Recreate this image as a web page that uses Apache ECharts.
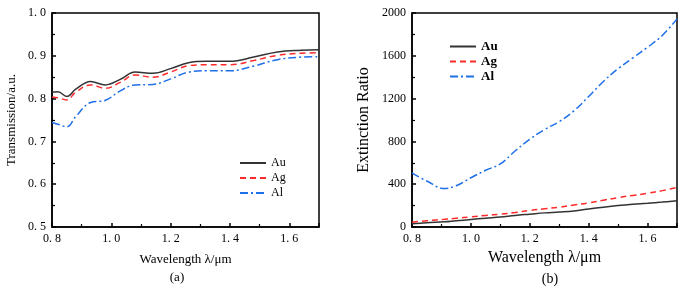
<!DOCTYPE html>
<html>
<head>
<meta charset="utf-8">
<script src="https://cdn.jsdelivr.net/npm/echarts@6/dist/echarts.min.js"></script>
<style>
  html, body { margin: 0; padding: 0; background: #fff; }
  #chart { width: 685px; height: 288px; }
</style>
</head>
<body>
<div id="chart"></div>
<script>
// (a) transmission
const waveA = [0.80, 0.82, 0.85, 0.88, 0.93, 0.98, 1.03, 1.08, 1.14, 1.20, 1.26, 1.32, 1.40, 1.48, 1.56, 1.64, 1.70];
const transAu = [0.815, 0.816, 0.805, 0.822, 0.840, 0.832, 0.845, 0.862, 0.859, 0.870, 0.884, 0.887, 0.887, 0.897, 0.909, 0.913, 0.914];
const transAg = [0.804, 0.802, 0.797, 0.815, 0.832, 0.824, 0.838, 0.855, 0.850, 0.862, 0.877, 0.879, 0.879, 0.889, 0.901, 0.906, 0.907];
const transAl = [0.744, 0.740, 0.734, 0.758, 0.791, 0.796, 0.818, 0.832, 0.833, 0.846, 0.862, 0.865, 0.865, 0.876, 0.891, 0.897, 0.898];

// (b) extinction ratio
const waveB = [0.80, 0.85, 0.91, 0.95, 1.00, 1.05, 1.10, 1.15, 1.20, 1.25, 1.30, 1.35, 1.40, 1.45, 1.50, 1.55, 1.60, 1.65, 1.70];
const erAu = [30, 40, 48, 58, 70, 82, 93, 108, 120, 132, 140, 150, 168, 185, 200, 212, 222, 233, 246];
const erAg = [45, 58, 72, 82, 94, 108, 120, 135, 155, 170, 185, 205, 225, 250, 275, 295, 315, 340, 370];
const erAl = [505, 430, 360, 385, 460, 530, 590, 710, 820, 910, 985, 1085, 1220, 1360, 1480, 1580, 1680, 1790, 1945];

const names = ["Au", "Ag", "Al"];
const colors = ["#333333", "#ff2a2a", "#1f6fe8"];
const dashes = ["solid", [6, 4], [8, 3, 2, 3]];

const serif = "'Liberation Serif', 'DejaVu Serif', serif";

const pairs = (xs, ys) => xs.map((x, i) => [x, ys[i]]);

function mkX(grid, nameSize) {
  return {
    type: "value", gridIndex: grid, min: 0.8, max: 1.7, interval: 0.2,
    name: "Wavelength λ/μm", nameLocation: "middle", nameGap: grid === 0 ? 26 : 22,
    nameTextStyle: { fontFamily: serif, fontSize: nameSize, color: "#000" },
    axisLine: { show: true, lineStyle: { color: "#000", width: 1.5 } },
    axisTick: { show: true, inside: true, length: 4, lineStyle: { color: "#000", width: 1.5 } },
    minorTick: { show: true, splitNumber: 2, length: 3, lineStyle: { color: "#000", width: 1.2 } },
    axisLabel: {
      fontFamily: serif, fontSize: 12, color: "#000", margin: 6,
      showMaxLabel: false,
      formatter: (v) => v.toFixed(1).replace(".", ". ")
    },
    splitLine: { show: false }
  };
}

const series = [];
[[transAu, transAg, transAl], [erAu, erAg, erAl]].forEach((set, g) => {
  set.forEach((ys, k) => {
    series.push({
      name: names[k], type: "line", xAxisIndex: g, yAxisIndex: g,
      data: pairs(g === 0 ? waveA : waveB, ys),
      smooth: 0.4, symbol: "none",
      lineStyle: { color: colors[k], width: 1.5, type: dashes[k] },
      itemStyle: { color: colors[k] }
    });
  });
});

const chart = echarts.init(document.getElementById("chart"));
chart.setOption({
  animation: false,
  backgroundColor: "#fff",
  title: [
    { text: "(a)", left: 172, top: 266, textAlign: "center",
      textStyle: { fontFamily: serif, fontSize: 13, fontWeight: "normal", color: "#000" } },
    { text: "(b)", left: 545, top: 267, textAlign: "center",
      textStyle: { fontFamily: serif, fontSize: 14, fontWeight: "normal", color: "#000" } }
  ],
  grid: [
    { left: 52, right: 366, top: 13, bottom: 61, show: true, borderColor: "#000", borderWidth: 1.5 },
    { left: 412, right: 8, top: 13, bottom: 61, show: true, borderColor: "#000", borderWidth: 1.5 }
  ],
  legend: [
    { data: names, orient: "vertical", left: 234, top: 152,
      itemWidth: 26, itemHeight: 10, itemGap: 3,
      itemStyle: { opacity: 0 },
      textStyle: { fontFamily: serif, fontSize: 12, color: "#000" } },
    { data: names, orient: "vertical", left: 444, top: 35,
      itemWidth: 26, itemHeight: 10, itemGap: 2,
      itemStyle: { opacity: 0 },
      textStyle: { fontFamily: serif, fontSize: 13, fontWeight: "bold", color: "#000" } }
  ],
  xAxis: [mkX(0, 13), mkX(1, 16)],
  yAxis: [
    {
      type: "value", gridIndex: 0, min: 0.5, max: 1.0, interval: 0.1,
      name: "Transmission/a.u.", nameLocation: "middle", nameGap: 34,
      nameTextStyle: { fontFamily: serif, fontSize: 13, color: "#000" },
      axisLine: { show: true, lineStyle: { color: "#000", width: 1.5 } },
      axisTick: { show: true, inside: true, length: 4, lineStyle: { color: "#000", width: 1.5 } },
      minorTick: { show: true, splitNumber: 2, length: 3, lineStyle: { color: "#000", width: 1.2 } },
      axisLabel: { fontFamily: serif, fontSize: 12, color: "#000", margin: 6,
        formatter: (v) => v.toFixed(1).replace(".", ". ") },
      splitLine: { show: false }
    },
    {
      type: "value", gridIndex: 1, min: 0, max: 2000, interval: 400,
      name: "Extinction Ratio", nameLocation: "middle", nameGap: 40,
      nameTextStyle: { fontFamily: serif, fontSize: 16, color: "#000" },
      axisLine: { show: true, lineStyle: { color: "#000", width: 1.5 } },
      axisTick: { show: true, inside: true, length: 4, lineStyle: { color: "#000", width: 1.5 } },
      minorTick: { show: true, splitNumber: 2, length: 3, lineStyle: { color: "#000", width: 1.2 } },
      axisLabel: { fontFamily: serif, fontSize: 12, color: "#000", margin: 6,
        formatter: (v) => String(v) },
      splitLine: { show: false }
    }
  ],
  series: series
});
</script>
</body>
</html>
